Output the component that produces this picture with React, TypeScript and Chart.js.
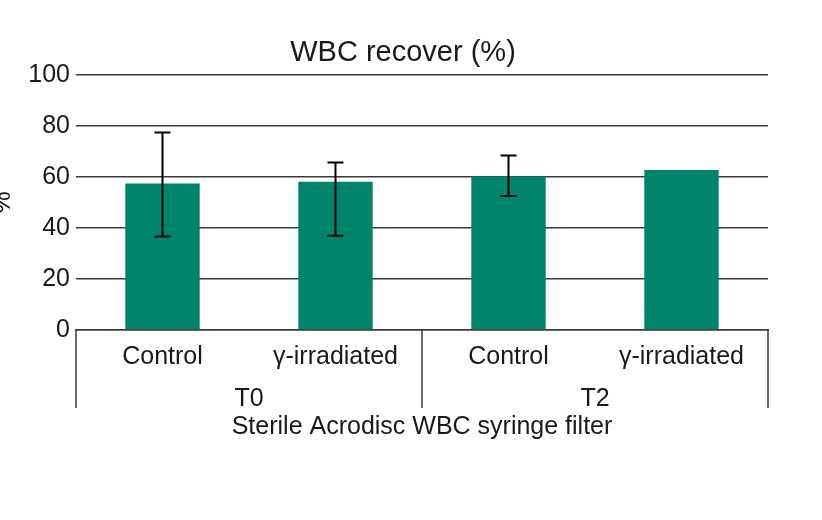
import React, { useRef, useEffect } from 'react';
import { Chart, registerables } from 'chart.js';

Chart.register(...registerables);

// data
const categories = ['Control', 'γ-irradiated', 'Control', 'γ-irradiated'];
const groups = ['T0', 'T2'];
const recovery = [57.4, 58.1, 60.1, 62.7];
const errLow: (number | null)[] = [36.6, 36.9, 52.5, null];
const errHigh: (number | null)[] = [77.4, 65.6, 68.4, null];
const yTicks = [0, 20, 40, 60, 80, 100];

const FONT = "'Liberation Sans', Arial, Helvetica, sans-serif";
const TEXT = '#1a1a1a';
const LINE = '#3a3a3a';

// error bars + group dividers under the x axis
const extrasPlugin = {
  id: 'extras',
  afterDatasetsDraw(chart: any) {
    const { ctx } = chart;
    const meta = chart.getDatasetMeta(0);
    const y = chart.scales.y;
    ctx.save();
    ctx.strokeStyle = '#000';
    ctx.lineWidth = 2;
    meta.data.forEach((bar: any, i: number) => {
      const lo = errLow[i];
      const hi = errHigh[i];
      if (lo == null || hi == null) return;
      const yl = y.getPixelForValue(lo);
      const yh = y.getPixelForValue(hi);
      const cap = 8;
      ctx.beginPath();
      ctx.moveTo(bar.x, yl);
      ctx.lineTo(bar.x, yh);
      ctx.moveTo(bar.x - cap, yl);
      ctx.lineTo(bar.x + cap, yl);
      ctx.moveTo(bar.x - cap, yh);
      ctx.lineTo(bar.x + cap, yh);
      ctx.stroke();
    });
    ctx.restore();
  },
  afterDraw(chart: any) {
    const { ctx, chartArea } = chart;
    const x = chart.scales.x;
    const x2 = chart.scales.x2;
    const mid = (x.getPixelForValue(1) + x.getPixelForValue(2)) / 2;
    const top = chartArea.bottom;
    const bottom = x2.top + 38;
    ctx.save();
    ctx.strokeStyle = LINE;
    ctx.lineWidth = 1.5;
    ctx.beginPath();
    [chartArea.left, mid, chartArea.right].forEach((px) => {
      ctx.moveTo(px, top);
      ctx.lineTo(px, bottom);
    });
    ctx.stroke();
    ctx.restore();
  },
};

const App: React.FC = () => {
  const canvasRef = useRef<HTMLCanvasElement | null>(null);
  const chartRef = useRef<Chart | null>(null);

  useEffect(() => {
    if (chartRef.current) chartRef.current.destroy();
    const ctx = canvasRef.current?.getContext('2d');
    if (!ctx) return;

    chartRef.current = new Chart(ctx, {
      type: 'bar',
      data: {
        labels: categories,
        datasets: [
          {
            label: 'WBC recover',
            data: recovery,
            backgroundColor: '#00856a',
            categoryPercentage: 1,
            barPercentage: 0.43,
          },
        ],
      },
      options: {
        animation: false,
        responsive: true,
        maintainAspectRatio: false,
        layout: { padding: { left: 0, right: 16, top: 0, bottom: 78 } },
        plugins: {
          legend: { display: false },
          tooltip: { enabled: false },
          title: {
            display: true,
            text: 'WBC recover (%)',
            color: TEXT,
            font: { family: FONT, size: 29, weight: 'normal' },
            padding: { top: 36, bottom: 4 },
          },
        },
        scales: {
          x: {
            type: 'category',
            position: 'bottom',
            weight: 0,
            afterFit(scale: any) {
              scale.height = 40;
            },
            grid: { display: false, drawTicks: false },
            border: { display: true, color: LINE, width: 1.5 },
            ticks: {
              color: TEXT,
              padding: 12,
              maxRotation: 0,
              autoSkip: false,
              font: { family: FONT, size: 25 },
            },
          },
          x2: {
            type: 'category',
            position: 'bottom',
            weight: 1,
            labels: groups,
            offset: true,
            afterFit(scale: any) {
              scale.height = 72;
            },
            grid: { display: false, drawTicks: false },
            border: { display: false },
            ticks: {
              color: TEXT,
              padding: 14,
              maxRotation: 0,
              font: { family: FONT, size: 25 },
            },
            title: {
              display: true,
              text: 'Sterile Acrodisc WBC syringe filter',
              color: TEXT,
              padding: { top: 0, bottom: 0 },
              font: { family: FONT, size: 25 },
            },
          },
          y: {
            min: 0,
            max: 100,
            afterFit(scale: any) {
              scale.width = 76;
            },
            afterBuildTicks(scale: any) {
              scale.ticks = yTicks.map((v) => ({ value: v }));
            },
            grid: { color: LINE, lineWidth: 1.5, drawTicks: false },
            border: { display: false },
            ticks: {
              color: TEXT,
              padding: 6,
              font: { family: FONT, size: 25 },
            },
            title: {
              display: true,
              text: '%',
              color: TEXT,
              padding: { top: -12, bottom: 0 },
              font: { family: FONT, size: 25 },
            },
          },
          // empty spacer on the right so the title sits where the reference has it
          yPad: {
            position: 'right',
            display: true,
            afterFit(scale: any) {
              scale.width = 38;
            },
            grid: { display: false, drawTicks: false },
            border: { display: false },
            ticks: { display: false },
          },
        },
      },
      plugins: [extrasPlugin],
    });

    return () => {
      if (chartRef.current) {
        chartRef.current.destroy();
        chartRef.current = null;
      }
    };
  }, []);

  return (
    <div style={{ position: 'fixed', left: 0, top: 0, width: 822, height: 520, background: '#fff' }}>
      <canvas ref={canvasRef} />
    </div>
  );
};

export default App;
